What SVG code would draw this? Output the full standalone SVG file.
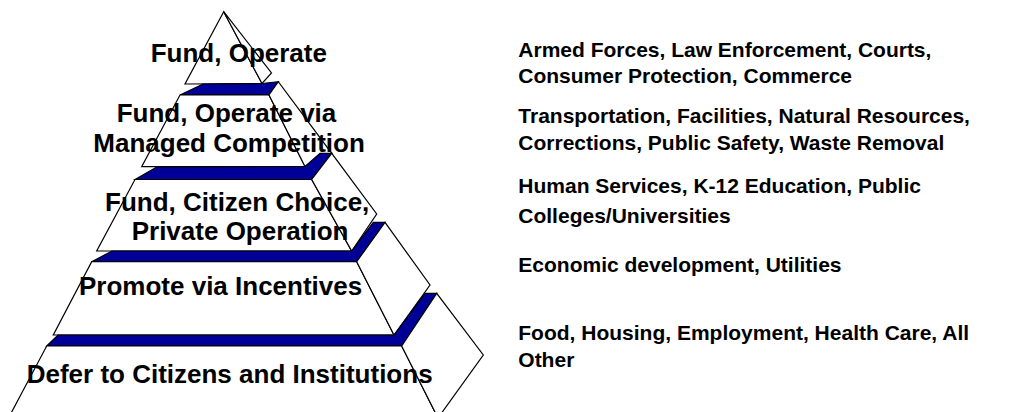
<svg xmlns="http://www.w3.org/2000/svg" width="1032" height="412" viewBox="0 0 1032 412">
<style>
.face{fill:#ffffff;stroke:#000000;stroke-width:1.2;stroke-linejoin:miter}
.band{fill:#000099;stroke:#000000;stroke-width:1.2;stroke-linejoin:miter}
.lbl{font-family:"Liberation Sans",Arial,sans-serif;font-weight:bold;font-size:26px;fill:#000000}
.desc{font-family:"Liberation Sans",Arial,sans-serif;font-weight:bold;font-size:21px;fill:#000000}
</style>
<rect x="0" y="0" width="1032" height="412" fill="#ffffff"/>
<g id="level1">
<polygon class="face" points="223.7,11.7 185,84 262,83.5"/>
<polygon class="face" points="223.7,11.7 271.5,73 262,83.5"/>
<polygon class="band" points="180,95 203,84 262,83.5 278.3,81.7 268.3,95"/>
<text class="lbl" x="150.7" y="61.7">Fund, Operate</text>
</g>
<g id="level2">
<polygon class="face" points="180,95 269,95 305,166.5 141.7,166.7"/>
<polygon class="face" points="269,95 278.3,81.7 331.7,153.3 305,166.5"/>
<polygon class="band" points="135,179.5 156.7,167 305,166.5 320,153.3 331.7,153.3 311.7,179.5"/>
<text class="lbl" x="116.7" y="121.7">Fund, Operate via</text>
<text class="lbl" x="93.3" y="151.7">Managed Competition</text>
</g>
<g id="level3">
<polygon class="face" points="135,179.5 311.7,179.5 351.7,251 96.7,251"/>
<polygon class="face" points="311.7,179.5 331.7,153.3 376.7,214 351.7,251"/>
<polygon class="band" points="91.7,261.7 112,251 351.7,251 373.3,222.3 385,222.3 356.7,261.7"/>
<text class="lbl" x="105" y="211">Fund, Citizen Choice,</text>
<text class="lbl" x="131.7" y="240">Private Operation</text>
</g>
<g id="level4">
<polygon class="face" points="91.7,261.7 356.7,261.7 394,335 53.3,335"/>
<polygon class="face" points="356.7,261.7 385,222.3 430,285 394,335"/>
<polygon class="band" points="46.7,346 58,335 394,335 425,293.3 436.7,293.3 401.7,346"/>
<text class="lbl" x="79" y="295">Promote via Incentives</text>
</g>
<g id="level5">
<polygon class="face" points="46.7,346 401.7,346 438,418 8.5,418"/>
<polygon class="face" points="401.7,346 436.7,293.3 483.3,355 438,418"/>
<text class="lbl" x="26.7" y="382.7">Defer to Citizens and Institutions</text>
</g>
<g id="desc1">
<text class="desc" x="518.3" y="56.7">Armed Forces, Law Enforcement, Courts,</text>
<text class="desc" x="518.3" y="83.3">Consumer Protection, Commerce</text>
</g>
<g id="desc2">
<text class="desc" x="518.3" y="122.7">Transportation, Facilities, Natural Resources,</text>
<text class="desc" x="518.3" y="150">Corrections, Public Safety, Waste Removal</text>
</g>
<g id="desc3">
<text class="desc" x="518.3" y="193">Human Services, K-12 Education, Public</text>
<text class="desc" x="518.3" y="223.3">Colleges/Universities</text>
</g>
<g id="desc4">
<text class="desc" x="518.3" y="271.7">Economic development, Utilities</text>
</g>
<g id="desc5">
<text class="desc" x="518.3" y="340">Food, Housing, Employment, Health Care, All</text>
<text class="desc" x="518.3" y="366.7">Other</text>
</g>
<g id="connectors"/>
</svg>
